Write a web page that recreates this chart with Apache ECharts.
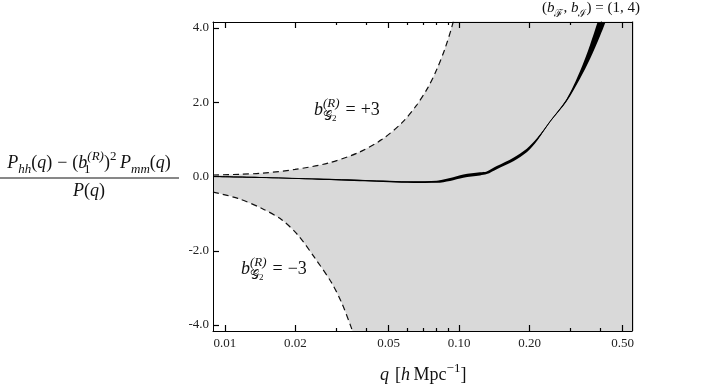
<!DOCTYPE html>
<html>
<head>
<meta charset="utf-8">
<script src="https://cdn.jsdelivr.net/npm/echarts@6/dist/echarts.min.js"></script>
<style>
  html, body { margin: 0; background: #fff; }
  #chart { width: 705px; height: 384px; }
</style>
</head>
<body>
<div id="chart"></div>
<script>
// axis ranges (q in h/Mpc, drawn on a log10 scale)
var qMin = 0.00889, qMax = 0.548;
var yMin = -4.16, yMax = 4.16;
var xMajorTicks = [0.01, 0.02, 0.05, 0.1, 0.2, 0.5];
var xMinorTicks = [0.03, 0.04, 0.06, 0.07, 0.08, 0.09, 0.3, 0.4];
var yTicks = [-4, -2, 0, 2, 4];

// dashed boundary b_G2 = +3 (last points run off the top)
var upperQ = [0.00889, 0.01159, 0.01453, 0.01991, 0.02755, 0.03701, 0.04689, 0.05708, 0.06551, 0.07371, 0.08054, 0.08714, 0.09334, 0.101, 0.11, 0.16, 0.3, 0.56];
var upperVal = [0.04, 0.06, 0.09, 0.19, 0.36, 0.64, 1.0, 1.45, 1.9, 2.4, 2.9, 3.45, 4.05, 4.9, 6.3, 12, 25, 45];

// dashed boundary b_G2 = -3 (last point runs off the bottom)
var lowerQ = [0.00889, 0.01136, 0.01439, 0.01752, 0.02051, 0.02425, 0.02866, 0.03162, 0.03455, 0.0378];
var lowerVal = [-0.42, -0.59, -0.86, -1.17, -1.58, -2.2, -2.88, -3.42, -4.05, -4.75];

// central curve and its half thickness (last points run off the top)
var centerQ = [0.00889, 0.015, 0.025, 0.0397, 0.0638, 0.0803, 0.0915, 0.1043, 0.1229, 0.1313, 0.1449, 0.1706, 0.1946, 0.2155, 0.2448, 0.2885, 0.3289, 0.3629, 0.4005, 0.435, 0.56];
var centerVal = [0.0, -0.03, -0.07, -0.11, -0.15, -0.14, -0.08, 0.01, 0.07, 0.10, 0.24, 0.46, 0.70, 1.0, 1.48, 2.06, 2.74, 3.36, 4.08, 4.75, 8.0];
var centerErr = [0.012, 0.013, 0.015, 0.018, 0.022, 0.028, 0.038, 0.042, 0.042, 0.036, 0.042, 0.048, 0.05, 0.035, 0.015, 0.035, 0.1, 0.19, 0.29, 0.34, 0.5];

var lg = Math.log10;
var serif = "'Liberation Serif', 'DejaVu Serif', serif";
var ink = '#111';
var bandGray = '#d9d9d9';

function pairs(qs, vals) {
  return qs.map(function (q, i) { return [lg(q), vals[i]]; });
}

function mathRich(size) {
  var small = Math.round(size * 0.7);
  var lh = size + 8;
  return {
    i: { fontFamily: serif, fontStyle: 'italic', fontSize: size, lineHeight: lh, fill: ink },
    r: { fontFamily: serif, fontSize: size, lineHeight: lh, fill: ink },
    op: { fontFamily: serif, fontSize: size, lineHeight: lh, fill: ink, padding: [0, 5, 0, 5] },
    lop: { fontFamily: serif, fontSize: size, lineHeight: lh, fill: ink, padding: [0, 0, 0, 6] },
    sup: { fontFamily: serif, fontSize: small, lineHeight: small + 3, verticalAlign: 'top', fill: ink },
    supi: { fontFamily: serif, fontStyle: 'italic', fontSize: small, lineHeight: small + 3, verticalAlign: 'top', fill: ink },
    sup0i: { fontFamily: serif, fontStyle: 'italic', fontSize: small, lineHeight: small + 3, verticalAlign: 'top', fill: ink, width: 0 },
    sub: { fontFamily: serif, fontSize: small, lineHeight: small + 1, verticalAlign: 'bottom', fill: ink },
    subi: { fontFamily: serif, fontStyle: 'italic', fontSize: small, lineHeight: small + 1, verticalAlign: 'bottom', fill: ink },
    sub0: { fontFamily: serif, fontSize: small, lineHeight: small + 1, verticalAlign: 'bottom', fill: ink, width: 0 },
    sub2: { fontFamily: serif, fontSize: Math.round(size * 0.5), lineHeight: 4, verticalAlign: 'bottom', fill: ink, padding: [0, 4, 0, 0] }
  };
}

function mathText(x, y, text, size, align) {
  return {
    type: 'text', x: x, y: y, silent: true, z: 20,
    style: { text: text, rich: mathRich(size), align: align || 'left', verticalAlign: 'top' }
  };
}

function tickAxis(pos, values, len, line) {
  return {
    type: 'value', gridIndex: 0, position: pos, min: lg(qMin), max: lg(qMax), z: 10,
    axisLine: { show: line, onZero: false, lineStyle: { color: '#000', width: 1 } },
    axisTick: { show: true, inside: true, length: len, customValues: values.map(lg), lineStyle: { color: '#000', width: 1.2 } },
    axisLabel: { show: false },
    splitLine: { show: false }
  };
}

var bottomAxis = tickAxis('bottom', xMajorTicks, 6, true);
bottomAxis.axisLabel = {
  show: true, customValues: xMajorTicks.map(lg), margin: 6,
  fontFamily: serif, fontSize: 13, color: '#222',
  formatter: function (v) { return Math.pow(10, v).toFixed(2); }
};

// filled area from a curve down to the axis bottom
function fillDown(qs, vals, color, dashed) {
  return {
    type: 'line', data: pairs(qs, vals), smooth: 0.3, symbol: 'none', silent: true,
    lineStyle: dashed ? { color: ink, width: 1.2, type: [6, 4] } : { width: 0, opacity: 0 },
    areaStyle: { color: color, opacity: 1, origin: 'start' }
  };
}

var centerHi = centerVal.map(function (v, i) { return v + centerErr[i]; });
var centerLo = centerVal.map(function (v, i) { return v - centerErr[i]; });

var chart = echarts.init(document.getElementById('chart'));
chart.setOption({
  animation: false,
  grid: { left: 213, right: 73, top: 22, bottom: 53, containLabel: false, outerBoundsMode: 'none' },
  xAxis: [
    bottomAxis,
    tickAxis('bottom', xMinorTicks, 3, false),
    tickAxis('top', xMajorTicks, 6, true),
    tickAxis('top', xMinorTicks, 3, false)
  ],
  yAxis: [
    {
      type: 'value', position: 'left', min: yMin, max: yMax, z: 10,
      axisLine: { show: true, onZero: false, lineStyle: { color: '#000', width: 1 } },
      axisTick: { show: true, inside: true, length: 6, customValues: yTicks, lineStyle: { color: '#000', width: 1.2 } },
      axisLabel: {
        customValues: yTicks, margin: 4, fontFamily: serif, fontSize: 13, color: '#222',
        formatter: function (v) { return v.toFixed(1); }
      },
      splitLine: { show: false }
    },
    {
      type: 'value', position: 'right', min: yMin, max: yMax, z: 10,
      axisLine: { show: true, onZero: false, lineStyle: { color: '#000', width: 1 } },
      axisTick: { show: false }, axisLabel: { show: false }, splitLine: { show: false }
    }
  ],
  series: [
    // gray below the +3 boundary
    fillDown(upperQ, upperVal, bandGray, true),
    // central band: black below its top edge, gray again below its bottom edge
    fillDown(centerQ, centerHi, '#000', false),
    fillDown(centerQ, centerLo, bandGray, false),
    // white below the -3 boundary
    fillDown(lowerQ, lowerVal, '#fff', true),
    {
      type: 'line', data: pairs(centerQ, centerVal), smooth: 0.3, symbol: 'none', silent: true,
      lineStyle: { color: '#000', width: 1 }
    }
  ],
  graphic: [
    mathText(542, -3, '{r|(}{i|b}{sub|ℱ}{r|, }{i|b}{sub|ℐ}{r|) = (1, 4)}', 15),
    mathText(314, 97, '{i|b}{sup0i|(R)}{sub|𝒢}{sub2|2}{op|=}{r|+3}', 18),
    mathText(241, 256, '{i|b}{sup0i|(R)}{sub|𝒢}{sub2|2}{op|=}{r|−3}', 18),
    mathText(380, 362, '{i|q}{lop|[}{i|h}{r|\u2009Mpc}{sup|−1}{r|]}', 18),
    mathText(89, 150, '{i|P}{subi|hh}{r|(}{i|q}{r|)}{op|−}{r|(}{i|b}{sub0|1}{supi|(R)}{r|)}{sup|2}{r|\u2009}{i|P}{subi|mm}{r|(}{i|q}{r|)}', 18, 'center'),
    {
      type: 'line', silent: true, z: 20,
      shape: { x1: 0, y1: 178, x2: 179, y2: 178 },
      style: { stroke: ink, lineWidth: 1 }
    },
    mathText(89, 178, '{i|P}{r|(}{i|q}{r|)}', 18, 'center')
  ]
});
</script>
</body>
</html>
